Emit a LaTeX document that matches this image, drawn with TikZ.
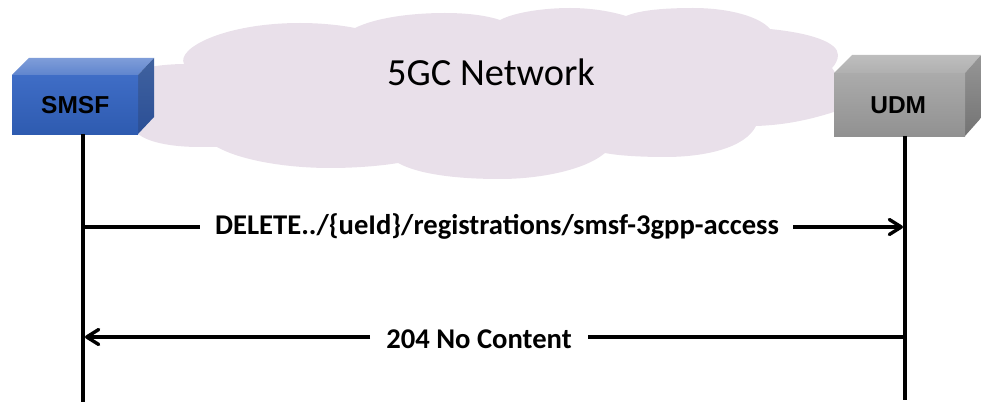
\documentclass[tikz,border=0pt]{standalone}
\usepackage{fontspec}
\setmainfont{Carlito}
\newfontfamily\boxfont{Liberation Sans}
\usetikzlibrary{arrows.meta}
\definecolor{cloudc}{HTML}{E9E0EA}
\tikzset{
  cloudpart/.style={fill=cloudc,draw=none},
  boxlabel/.style={draw=none,inner sep=0pt,font=\boxfont\bfseries\fontsize{24.5}{28}\selectfont,text=black,anchor=north west,shape=rectangle},
  lifeline/.style={line width=3.4pt,black},
  msg/.style={line width=3.4pt,black,-{Straight Barb[length=12pt,width=15pt,round]}},
  plainmsg/.style={line width=3.4pt,black},
  msglabel/.style={font=\bfseries\fontsize{28.6}{32}\selectfont,inner sep=0pt,text=black},
  smsfbox/.style={boxlabel,top color=blue1,bottom color=blue2,minimum width=126pt,minimum height=59pt},
  udmbox/.style={boxlabel,top color=gray1,bottom color=gray2,minimum width=131pt,minimum height=63pt},
}
\definecolor{blue1}{HTML}{3F6DC6}
\definecolor{blue2}{HTML}{2E5BB0}
\definecolor{bluetop1}{HTML}{5F85CE}
\definecolor{bluetop2}{HTML}{7F9DD9}
\definecolor{blueside1}{HTML}{40629F}
\definecolor{blueside2}{HTML}{2B4F96}
\definecolor{gray1}{HTML}{ABABAB}
\definecolor{gray2}{HTML}{919191}
\definecolor{graytop1}{HTML}{B0B0B0}
\definecolor{graytop2}{HTML}{BEBEBE}
\definecolor{grayside1}{HTML}{969696}
\definecolor{grayside2}{HTML}{737373}
\begin{document}
\begin{tikzpicture}[x=1pt,y=-1pt]
\useasboundingbox (0,0) rectangle (981,406);
% cloud
\fill[cloudpart] (184,64)
  .. controls (176,48) and (225,23) .. (300,23)
  .. controls (320,23) and (340,25) .. (355,28)
  .. controls (375,18) and (410,13) .. (445,13)
  .. controls (465,13) and (485,15) .. (500,20)
  .. controls (515,12) and (545,8) .. (570,8)
  .. controls (590,8) and (610,11) .. (626,16)
  .. controls (640,10) and (665,8) .. (693,8)
  .. controls (730,8) and (760,17) .. (770,29)
  .. controls (810,33) and (838,42) .. (838,55)
  .. controls (838,60) and (835,65) .. (832,68)
  -- (840,80) -- (840,110)
  .. controls (810,120) and (785,125) .. (756,126)
  .. controls (745,148) and (705,157) .. (665,157)
  .. controls (645,157) and (620,156) .. (605,153)
  .. controls (585,170) and (540,179) .. (500,179)
  .. controls (460,179) and (420,175) .. (398,163)
  .. controls (380,166) and (355,168) .. (330,168)
  .. controls (285,168) and (240,160) .. (217,147)
  -- (200,147)
  .. controls (170,147) and (148,142) .. (138,134)
  -- (140,100) -- (150,67)
  .. controls (160,65) and (175,64) .. (184,64) -- cycle;
\node[font=\fontsize{38.4}{44}\selectfont,inner sep=0pt,text=black] (net) at (491,72) {5GC Network};
% SMSF box
\shade[top color=bluetop2,bottom color=bluetop1] (12,75) -- (29,58) -- (154,58) -- (138,75) -- cycle;
\shade[top color=blueside1,bottom color=blueside2] (138,75) -- (154,58) -- (154,117) -- (138,134) -- cycle;
\node[smsfbox] (smsf) at (12,75) {SMSF};
% UDM box
\shade[top color=graytop2,bottom color=graytop1] (834,73) -- (852,55) -- (981,55) -- (965,73) -- cycle;
\shade[top color=grayside1,bottom color=grayside2] (965,73) -- (981,55) -- (981,118) -- (965,136) -- cycle;
\node[udmbox] (udm) at (834,73) {UDM\kern3pt};
% lifelines
\coordinate (smsfend) at (83,402);
\coordinate (udmend) at (905,400);
\coordinate (smsftop) at (83,134);
\coordinate (udmtop) at (905,136);
\draw[lifeline] (smsftop) -- (smsfend);
\draw[lifeline] (udmtop) -- (udmend);
% request
\coordinate (reqa) at (83,227);
\coordinate (reqb) at (903,227);
\node[msglabel] (req) at (497,226) {DELETE../\{ueId\}/registrations/smsf-3gpp-access};
\draw[plainmsg] (reqa) -- ([xshift=-15pt]req.west |- reqa);
\draw[msg] ([xshift=14pt]req.east |- reqb) -- (reqb);
% response
\coordinate (resa) at (905,337);
\coordinate (resb) at (85,337);
\node[msglabel] (res) at (479,339) {204 No Content};
\draw[plainmsg] (resa) -- ([xshift=16pt]res.east |- resa);
\draw[msg] ([xshift=-16pt]res.west |- resb) -- (resb);
\end{tikzpicture}
\end{document}
